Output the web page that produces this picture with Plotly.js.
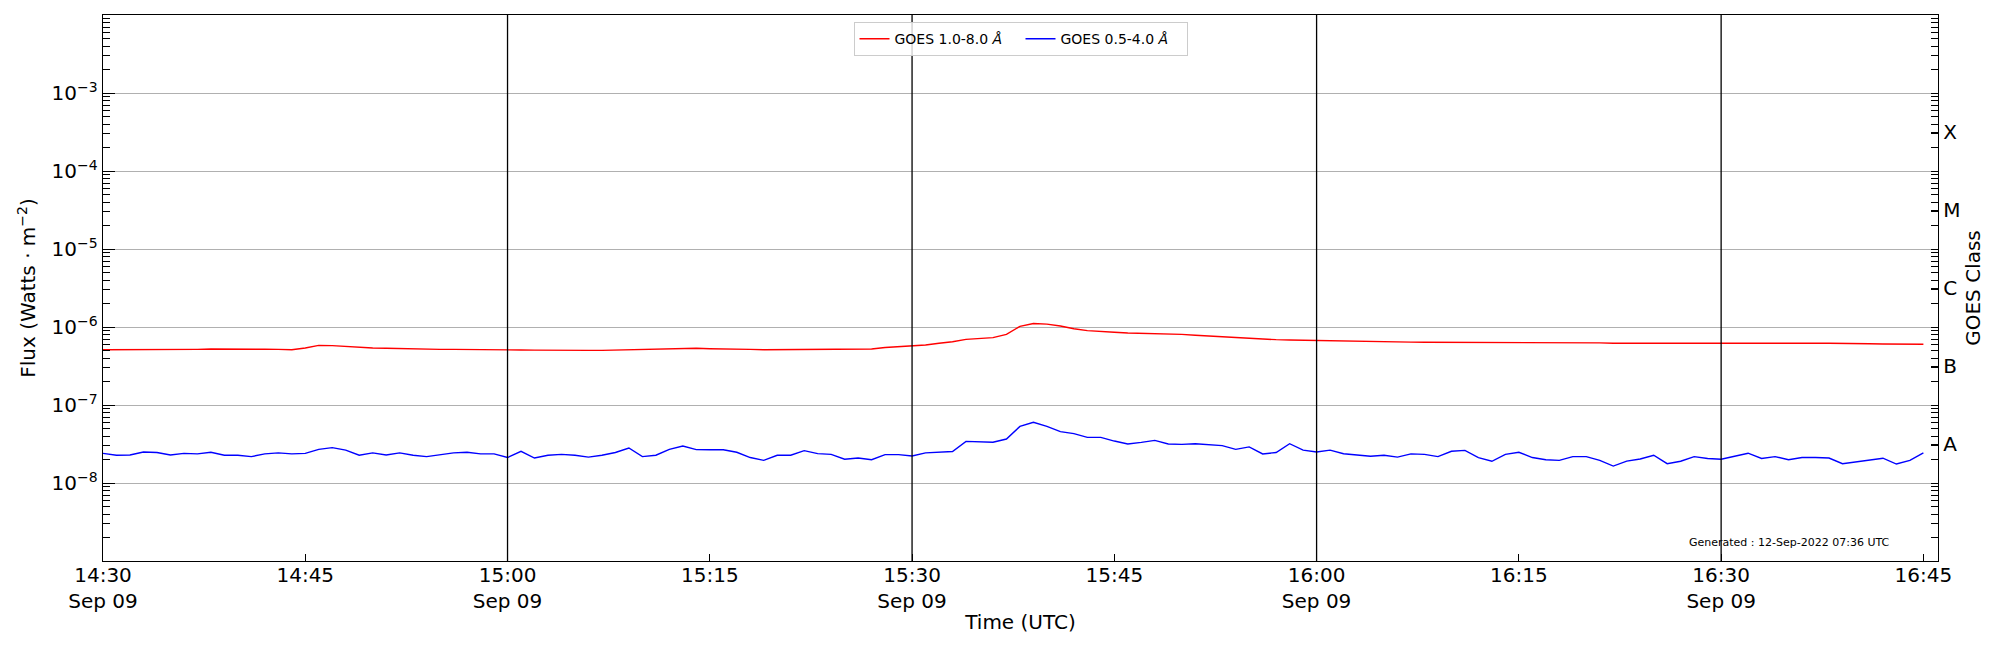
<!DOCTYPE html>
<html>
<head>
<meta charset="utf-8">
<script src="https://cdn.plot.ly/plotly-3.0.1.min.js"></script>
<style>
  body { margin: 0; background: #fff; }
  #graph { width: 2000px; height: 650px; }
</style>
</head>
<body>
<div id="graph"></div>
<script>
// one sample per minute, 14:30 .. 16:45 UTC on 2022-09-09
const startTime = "2022-09-09T14:30:00";
const cadenceMinutes = 1;

// GOES 1.0-8.0 A (W/m^2)
const xrsLong = [
  5.12e-7, 5.12e-7, 5.12e-7, 5.10e-7, 5.07e-7, 5.07e-7, 5.12e-7, 5.17e-7, 5.22e-7, 5.24e-7,
  5.24e-7, 5.22e-7, 5.19e-7, 5.17e-7, 5.12e-7, 5.38e-7, 5.82e-7, 5.77e-7, 5.60e-7, 5.50e-7,
  5.38e-7, 5.33e-7, 5.27e-7, 5.22e-7, 5.17e-7, 5.17e-7, 5.17e-7, 5.17e-7, 5.15e-7, 5.12e-7,
  5.12e-7, 5.07e-7, 5.05e-7, 5.02e-7, 5.02e-7, 5.02e-7, 5.02e-7, 5.02e-7, 5.07e-7, 5.12e-7,
  5.12e-7, 5.17e-7, 5.27e-7, 5.38e-7, 5.33e-7, 5.27e-7, 5.27e-7, 5.22e-7, 5.17e-7, 5.12e-7,
  5.12e-7, 5.12e-7, 5.12e-7, 5.12e-7, 5.12e-7, 5.15e-7, 5.17e-7, 5.22e-7, 5.45e-7, 5.60e-7,
  5.77e-7, 5.88e-7, 6.18e-7, 6.48e-7, 6.95e-7, 7.09e-7, 7.30e-7, 8.05e-7, 1.02e-6, 1.11e-6,
  1.09e-6, 1.03e-6, 9.50e-7, 8.98e-7, 8.71e-7, 8.55e-7, 8.38e-7, 8.34e-7, 8.30e-7, 8.20e-7,
  8.05e-7, 7.85e-7, 7.67e-7, 7.45e-7, 7.23e-7, 7.10e-7, 6.95e-7, 6.88e-7, 6.81e-7, 6.75e-7,
  6.68e-7, 6.62e-7, 6.60e-7, 6.55e-7, 6.52e-7, 6.50e-7, 6.45e-7, 6.40e-7, 6.37e-7, 6.36e-7,
  6.36e-7, 6.36e-7, 6.36e-7, 6.36e-7, 6.40e-7, 6.42e-7, 6.38e-7, 6.32e-7, 6.30e-7, 6.30e-7,
  6.30e-7, 6.25e-7, 6.20e-7, 6.18e-7, 6.18e-7, 6.18e-7, 6.18e-7, 6.18e-7, 6.18e-7, 6.18e-7,
  6.18e-7, 6.20e-7, 6.20e-7, 6.22e-7, 6.24e-7, 6.22e-7, 6.20e-7, 6.20e-7, 6.20e-7, 6.20e-7,
  6.15e-7, 6.10e-7, 6.05e-7, 6.00e-7, 6.00e-7, 6.00e-7
];

// GOES 0.5-4.0 A (W/m^2)
const xrsShort = [
  2.40e-8, 2.27e-8, 2.29e-8, 2.50e-8, 2.46e-8, 2.29e-8, 2.40e-8, 2.36e-8, 2.48e-8, 2.27e-8,
  2.27e-8, 2.18e-8, 2.36e-8, 2.43e-8, 2.36e-8, 2.40e-8, 2.70e-8, 2.84e-8, 2.64e-8, 2.27e-8,
  2.43e-8, 2.29e-8, 2.43e-8, 2.27e-8, 2.18e-8, 2.29e-8, 2.43e-8, 2.48e-8, 2.36e-8, 2.36e-8,
  2.12e-8, 2.55e-8, 2.09e-8, 2.27e-8, 2.33e-8, 2.27e-8, 2.15e-8, 2.27e-8, 2.46e-8, 2.81e-8,
  2.18e-8, 2.27e-8, 2.70e-8, 2.98e-8, 2.68e-8, 2.67e-8, 2.67e-8, 2.48e-8, 2.12e-8, 1.95e-8,
  2.27e-8, 2.27e-8, 2.60e-8, 2.38e-8, 2.33e-8, 2.02e-8, 2.09e-8, 1.99e-8, 2.31e-8, 2.31e-8,
  2.22e-8, 2.43e-8, 2.46e-8, 2.53e-8, 3.42e-8, 3.39e-8, 3.33e-8, 3.66e-8, 5.32e-8, 6.00e-8,
  5.32e-8, 4.55e-8, 4.29e-8, 3.85e-8, 3.85e-8, 3.45e-8, 3.16e-8, 3.32e-8, 3.52e-8, 3.16e-8,
  3.13e-8, 3.19e-8, 3.10e-8, 3.01e-8, 2.70e-8, 2.90e-8, 2.36e-8, 2.46e-8, 3.19e-8, 2.64e-8,
  2.50e-8, 2.64e-8, 2.37e-8, 2.29e-8, 2.20e-8, 2.27e-8, 2.15e-8, 2.36e-8, 2.33e-8, 2.18e-8,
  2.55e-8, 2.62e-8, 2.12e-8, 1.90e-8, 2.33e-8, 2.48e-8, 2.12e-8, 1.99e-8, 1.95e-8, 2.18e-8,
  2.18e-8, 1.95e-8, 1.65e-8, 1.91e-8, 2.03e-8, 2.27e-8, 1.77e-8, 1.90e-8, 2.18e-8, 2.06e-8,
  2.02e-8, 2.20e-8, 2.41e-8, 2.06e-8, 2.18e-8, 1.99e-8, 2.12e-8, 2.12e-8, 2.09e-8, 1.77e-8,
  1.87e-8, 1.97e-8, 2.08e-8, 1.75e-8, 1.95e-8, 2.43e-8
];

const tickTimes = [
  "2022-09-09 14:30", "2022-09-09 14:45", "2022-09-09 15:00", "2022-09-09 15:15",
  "2022-09-09 15:30", "2022-09-09 15:45", "2022-09-09 16:00", "2022-09-09 16:15",
  "2022-09-09 16:30", "2022-09-09 16:45"
];
const tickLabels = [
  "14:30<br>Sep 09", "14:45", "15:00<br>Sep 09", "15:15", "15:30<br>Sep 09",
  "15:45", "16:00<br>Sep 09", "16:15", "16:30<br>Sep 09", "16:45"
];
const dayLines = ["2022-09-09 15:00", "2022-09-09 15:30", "2022-09-09 16:00", "2022-09-09 16:30"];

const fluxTicks = [1e-8, 1e-7, 1e-6, 1e-5, 1e-4, 1e-3];
const fluxLabels = ["10<sup>−8</sup>", "10<sup>−7</sup>", "10<sup>−6</sup>", "10<sup>−5</sup>", "10<sup>−4</sup>", "10<sup>−3</sup>"];
const classNames = ["A", "B", "C", "M", "X"];
const classCenters = [10 ** -7.5, 10 ** -6.5, 10 ** -5.5, 10 ** -4.5, 10 ** -3.5];

const generatedText = "Generated : 12-Sep-2022 07:36 UTC";

function render() {
  const t0 = new Date(startTime + "Z").getTime();
  const times = xrsLong.map((_, i) => {
    const d = new Date(t0 + i * cadenceMinutes * 60000);
    return d.toISOString().slice(0, 19).replace("T", " ");
  });

  // log minor ticks, 2..9 x 10^n
  const minorVals = [];
  for (let e = -9; e < -2; e++) {
    for (let m = 1; m <= 9; m++) minorVals.push(m * 10 ** e);
  }

  const font = "DejaVu Sans, Verdana, sans-serif";
  const minorTicks = {
    tickmode: "array",
    tickvals: minorVals,
    ticks: "inside",
    ticklen: 7,
    tickwidth: 1,
    tickcolor: "#000000",
    showgrid: false,
  };

  const traces = [
    {
      type: "scatter", mode: "lines", x: times, y: xrsLong,
      name: "GOES 1.0-8.0 <i>Å</i>",
      line: { color: "#ff0000", width: 1.4 },
    },
    {
      type: "scatter", mode: "lines", x: times, y: xrsShort,
      name: "GOES 0.5-4.0 <i>Å</i>",
      line: { color: "#0000ff", width: 1.4 },
    },
    {
      // invisible trace to bind the class axis
      type: "scatter", mode: "lines", x: [times[0]], y: [1e-6],
      yaxis: "y2", showlegend: false, hoverinfo: "skip",
      line: { width: 0 },
    },
  ];

  const layout = {
    width: 2000,
    height: 650,
    margin: { l: 103, r: 62, t: 15, b: 89, pad: 0 },
    paper_bgcolor: "#ffffff",
    plot_bgcolor: "#ffffff",
    font: { family: font, color: "#000000", size: 20 },
    showlegend: true,
    legend: {
      orientation: "h",
      x: 0.5, xanchor: "center",
      y: 0.987, yanchor: "top",
      bgcolor: "rgba(255,255,255,0.8)",
      bordercolor: "#cccccc",
      borderwidth: 1,
      font: { size: 14 },
      itemwidth: 30,
      entrywidth: 121,
    },
    xaxis: {
      type: "date",
      range: ["2022-09-09 14:30:00", "2022-09-09 16:46:05"],
      tickmode: "array",
      tickvals: tickTimes,
      ticktext: tickLabels,
      ticks: "inside",
      ticklen: 7,
      tickwidth: 1,
      tickcolor: "#000000",
      ticklabelstandoff: -4,
      showgrid: false,
      zeroline: false,
      showline: true,
      linecolor: "#000000",
      linewidth: 1.3,
      mirror: true,
      tickfont: { size: 20 },
      title: { text: "Time (UTC)", font: { size: 20 }, standoff: 2 },
    },
    yaxis: {
      type: "log",
      range: [-9, -2],
      tickmode: "array",
      tickvals: fluxTicks,
      ticktext: fluxLabels,
      ticks: "inside",
      ticklen: 12,
      tickwidth: 1,
      tickcolor: "#000000",
      showgrid: true,
      gridcolor: "#b0b0b0",
      gridwidth: 1,
      zeroline: false,
      showline: true,
      linecolor: "#000000",
      linewidth: 1.3,
      tickfont: { size: 20 },
      minor: minorTicks,
      title: { text: "Flux (Watts · m<sup>−2</sup>)", font: { size: 20 }, standoff: 10 },
    },
    yaxis2: {
      type: "log",
      range: [-9, -2],
      overlaying: "y",
      side: "right",
      tickmode: "array",
      tickvals: classCenters,
      ticktext: classNames,
      ticks: "inside",
      ticklen: 7,
      tickwidth: 1,
      tickcolor: "#000000",
      showgrid: false,
      zeroline: false,
      showline: true,
      linecolor: "#000000",
      linewidth: 1.3,
      tickfont: { size: 20 },
      minor: minorTicks,
      title: { text: "GOES Class", font: { size: 20 }, standoff: 6 },
    },
    shapes: dayLines.map((t) => ({
      type: "line", xref: "x", yref: "paper",
      x0: t, x1: t, y0: 0, y1: 1,
      line: { color: "#000000", width: 1.3 },
      layer: "above",
    })),
    annotations: [
      {
        text: generatedText,
        xref: "paper", yref: "paper",
        x: 0.975, xanchor: "right",
        y: 0.018, yanchor: "bottom",
        showarrow: false,
        font: { size: 11, color: "#000000" },
      },
    ],
  };

  Plotly.newPlot("graph", traces, layout, { displayModeBar: false, staticPlot: true });
}

render();
</script>
</body>
</html>
